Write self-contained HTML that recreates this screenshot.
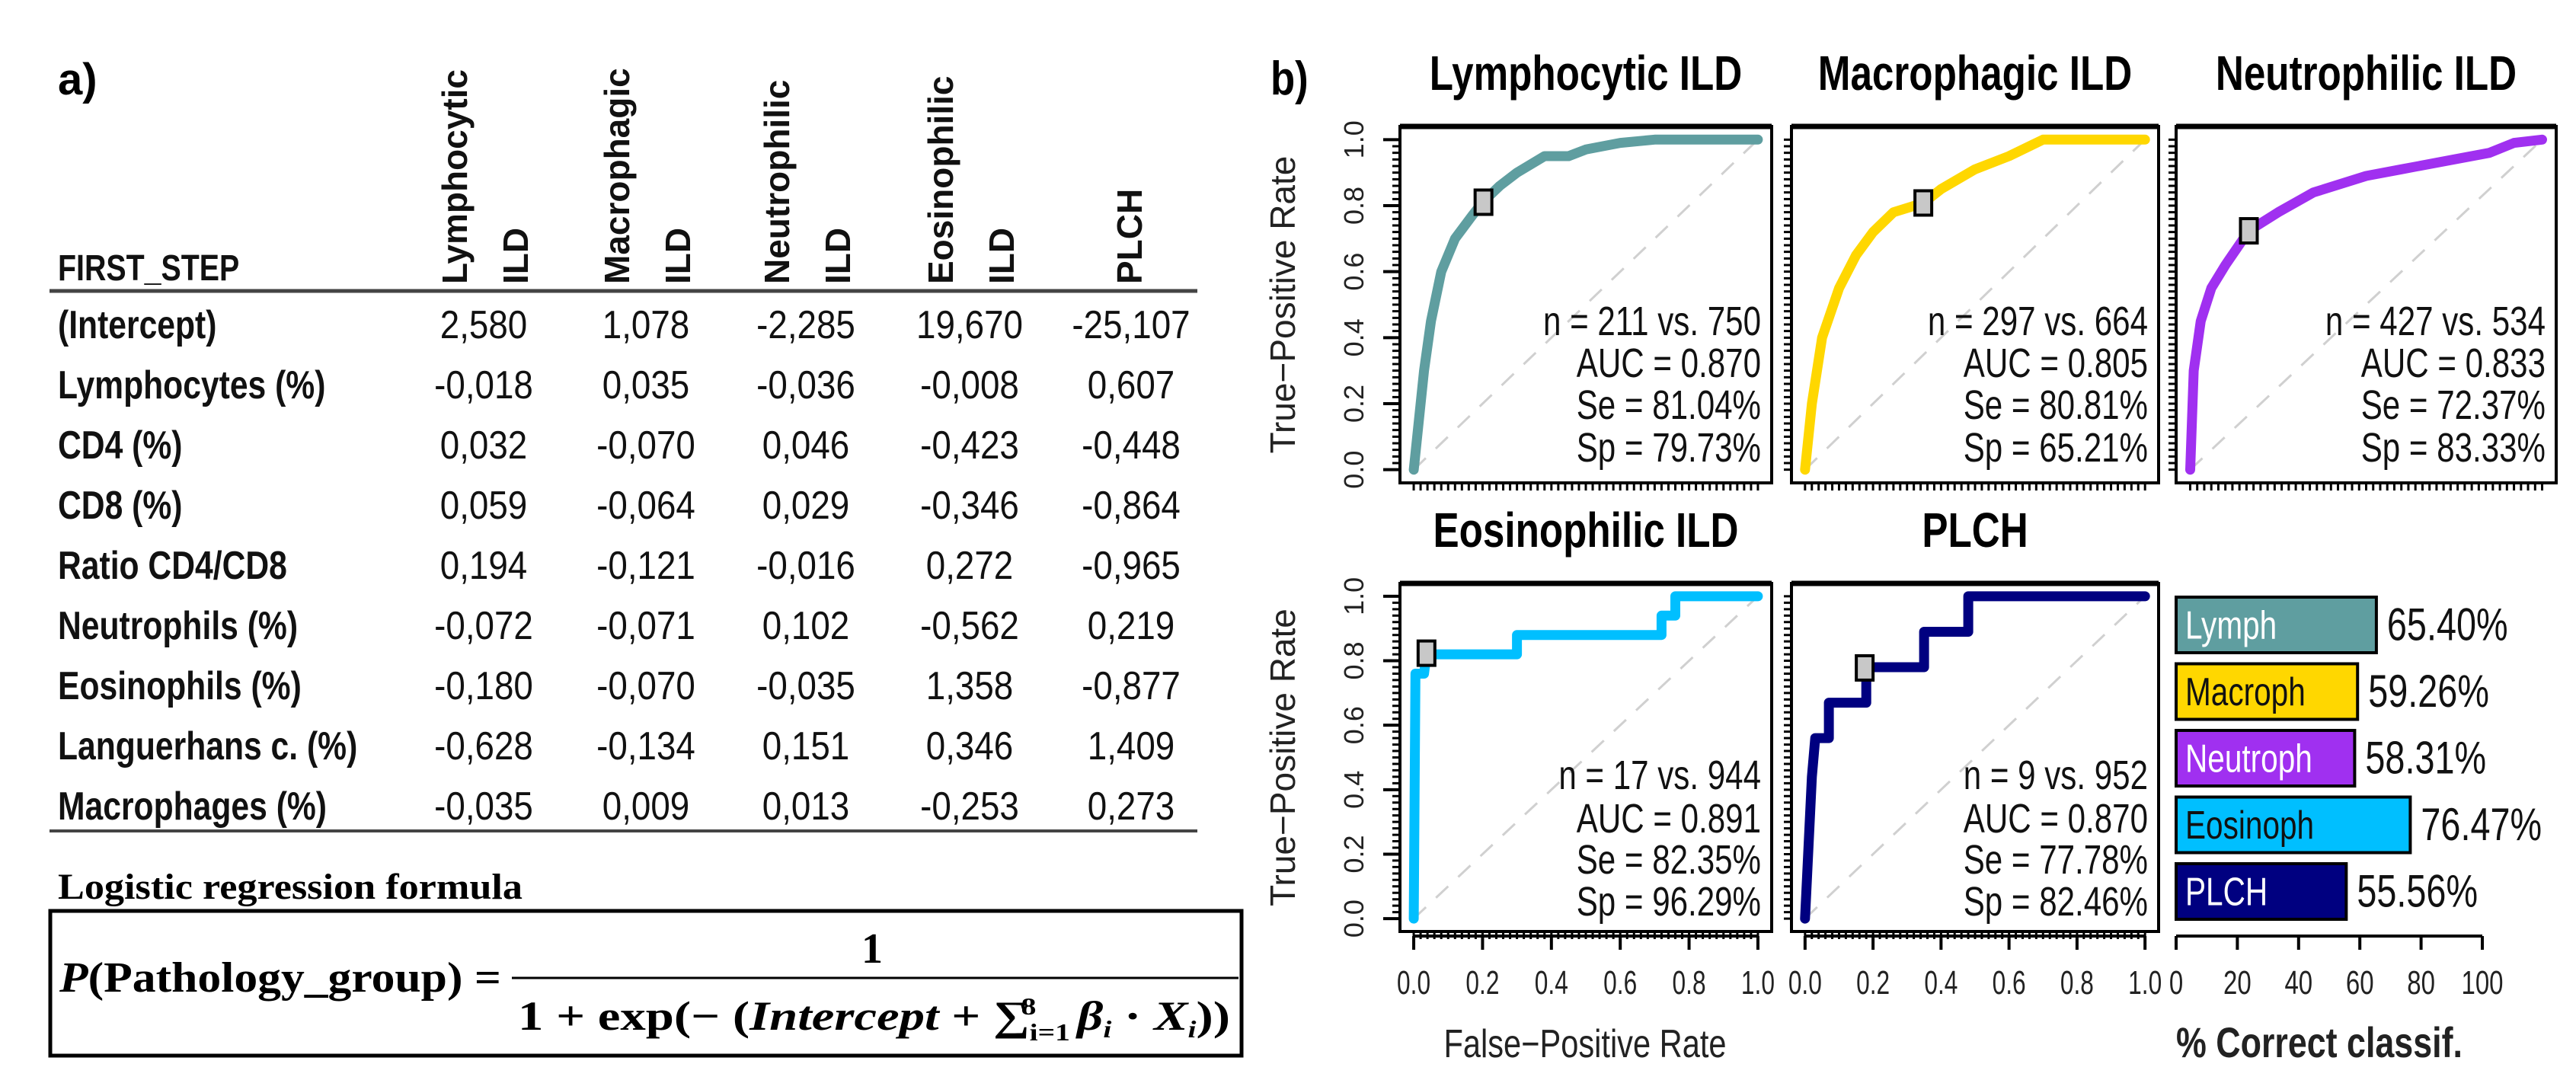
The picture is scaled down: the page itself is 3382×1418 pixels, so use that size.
<!DOCTYPE html>
<html><head><meta charset="utf-8"><style>
html,body{margin:0;padding:0;background:#fff;}
svg{display:block;}
</style></head><body>
<svg id="fig" width="3382" height="1418" viewBox="0 0 3382 1418" xmlns="http://www.w3.org/2000/svg">
<rect x="0" y="0" width="3382" height="1418" fill="#fff"/>
<g id="table" font-family="Liberation Sans, sans-serif" fill="#111"></g>
<g id="formula">
  <text x="76" y="124" font-family="Liberation Sans, sans-serif" font-weight="bold" font-size="58">a)</text>
  <text x="76" y="1180" font-family="Liberation Serif, serif" font-weight="bold" font-size="48" textLength="610" lengthAdjust="spacingAndGlyphs">Logistic regression formula</text>
  <rect x="66" y="1196" width="1564" height="190" fill="none" stroke="#000" stroke-width="5"/>
  <text x="78" y="1302" font-family="Liberation Serif, serif" font-weight="bold" font-size="56" textLength="580" lengthAdjust="spacingAndGlyphs"><tspan font-style="italic">P</tspan>(Pathology_group) =</text>
  <text x="1145" y="1264" text-anchor="middle" font-family="Liberation Serif, serif" font-weight="bold" font-size="56">1</text>
  <line x1="672" y1="1284" x2="1626" y2="1284" stroke="#000" stroke-width="3"/>
  <text x="680" y="1352" font-family="Liberation Serif, serif" font-weight="bold" font-size="54" textLength="935" lengthAdjust="spacingAndGlyphs">1 + exp(− (<tspan font-style="italic">Intercept</tspan> + ∑<tspan font-size="32" dy="14">i=1</tspan><tspan font-size="32" dy="-34" dx="-52">8</tspan><tspan dy="20" dx="30"> </tspan><tspan font-style="italic">β</tspan><tspan font-size="32" font-style="italic" dy="10">i</tspan><tspan dy="-10"> · </tspan><tspan font-style="italic">X</tspan><tspan font-size="32" font-style="italic" dy="10">i</tspan><tspan dy="-10">))</tspan></text>
</g>
<g id="rocs" font-family="Liberation Sans, sans-serif"></g>
<g id="bars" font-family="Liberation Sans, sans-serif"></g>
</svg>
<script>
const NS="http://www.w3.org/2000/svg";
function mk(parent,tag,attrs,txt){const e=document.createElementNS(NS,tag);for(const k in attrs)e.setAttribute(k,attrs[k]);if(txt!==undefined)e.textContent=txt;parent.appendChild(e);return e;}
// condensed text helper (x,y anchor, horizontal squeeze)
function ctext(parent,x,y,s,size,anchor,sx,extra){const a=Object.assign({transform:`translate(${x},${y}) scale(${sx},1)`,'text-anchor':anchor,'font-size':size},extra||{});return mk(parent,'text',a,s);}

// ---------- TABLE DATA ----------
const colHeads=[["Lymphocytic","ILD"],["Macrophagic","ILD"],["Neutrophilic","ILD"],["Eosinophilic","ILD"],["PLCH",""]];
const rowLabels=["(Intercept)","Lymphocytes (%)","CD4 (%)","CD8 (%)","Ratio CD4/CD8","Neutrophils (%)","Eosinophils (%)","Languerhans c. (%)","Macrophages (%)"];
const colLymph=["2,580","-0,018","0,032","0,059","0,194","-0,072","-0,180","-0,628","-0,035"];
const colMacro=["1,078","0,035","-0,070","-0,064","-0,121","-0,071","-0,070","-0,134","0,009"];
const colNeutro=["-2,285","-0,036","0,046","0,029","-0,016","0,102","-0,035","0,151","0,013"];
const colEosin=["19,670","-0,008","-0,423","-0,346","0,272","-0,562","1,358","0,346","-0,253"];
const colPlch=["-25,107","0,607","-0,448","-0,864","-0,965","0,219","-0,877","1,409","0,273"];
const tcols=[colLymph,colMacro,colNeutro,colEosin,colPlch];

const tb=document.getElementById('table');
const colX=[635,848,1058,1273,1485];
const t1=ctext(tb,76,368,'FIRST_STEP',48,'start',0.82,{'font-weight':'bold'});


colHeads.forEach((h,i)=>{
  const xa = h[1]? colX[i]-22 : colX[i]+14;
  const a=mk(tb,'text',{transform:`translate(${xa},373) rotate(-90)`,'font-weight':'bold','font-size':46},h[0]);
  
  
  if(h[1]){
    const b=mk(tb,'text',{transform:`translate(${colX[i]+58},373) rotate(-90)`,'font-weight':'bold','font-size':46},h[1]);
    
    
  }
});
let hl=mk(tb,'line',{x1:65,y1:382,x2:1572,y2:382,stroke:'#444','stroke-width':5});


let bl=mk(tb,'line',{x1:65,y1:1091,x2:1572,y2:1091,stroke:'#444','stroke-width':4});


rowLabels.forEach((r,j)=>{
  const y=444+j*79;
  const l=ctext(tb,76,y,r,52,'start',0.82,{'font-weight':'bold'});
  
  
  tcols.forEach((c,i)=>{
    const v=ctext(tb,colX[i],y,c[j],52,'middle',0.88);
    
    
  });
});

// ---------- ROC DATA ----------
const rocTitles=["Lymphocytic ILD","Macrophagic ILD","Neutrophilic ILD","Eosinophilic ILD","PLCH"];
const rocColors=["#5f9ea0","#ffd700","#a030f0","#00bfff","#000080"];
const lymphFpr=[0,0.01,0.02,0.03,0.05,0.08,0.12,0.17,0.2,0.25,0.3,0.38,0.45,0.5,0.6,0.7,1];
const lymphTpr=[0,0.1,0.2,0.3,0.45,0.6,0.7,0.77,0.81,0.86,0.9,0.95,0.95,0.97,0.99,1,1];
const macroFpr=[0,0.02,0.05,0.1,0.15,0.2,0.26,0.348,0.4,0.5,0.6,0.7,1];
const macroTpr=[0,0.2,0.4,0.55,0.65,0.72,0.78,0.808,0.85,0.91,0.95,1,1];
const neutroFpr=[0,0.01,0.03,0.06,0.1,0.167,0.25,0.35,0.5,0.6,0.75,0.85,0.92,1];
const neutroTpr=[0,0.3,0.45,0.55,0.62,0.724,0.78,0.84,0.89,0.91,0.94,0.96,0.99,1];
const eosFpr=[0,0.005,0.03,0.037,0.3,0.3,0.72,0.72,0.76,0.76,1];
const eosTpr=[0,0.76,0.76,0.82,0.82,0.88,0.88,0.94,0.94,1,1];
const plchFpr=[0,0.01,0.02,0.03,0.07,0.07,0.18,0.18,0.35,0.35,0.48,0.48,1];
const plchTpr=[0,0.22,0.44,0.56,0.56,0.67,0.67,0.78,0.78,0.89,0.89,1,1];
const rocFpr=[lymphFpr,macroFpr,neutroFpr,eosFpr,plchFpr];
const rocTpr=[lymphTpr,macroTpr,neutroTpr,eosTpr,plchTpr];
const cutFpr=[0.2027,0.3479,0.1667,0.0371,0.1754];
const cutTpr=[0.8104,0.8081,0.7237,0.8235,0.7778];
const annN=["n = 211 vs. 750","n = 297 vs. 664","n = 427 vs. 534","n = 17 vs. 944","n = 9 vs. 952"];
const annAuc=["AUC = 0.870","AUC = 0.805","AUC = 0.833","AUC = 0.891","AUC = 0.870"];
const annSe=["Se = 81.04%","Se = 80.81%","Se = 72.37%","Se = 82.35%","Se = 77.78%"];
const annSp=["Sp = 79.73%","Sp = 65.21%","Sp = 83.33%","Sp = 96.29%","Sp = 82.46%"];
const tickVals=[0,0.2,0.4,0.6,0.8,1.0];

const boxes=[[1838,166,2326,634],[2352,166,2834,634],[2857,166,3356,634],[1838,766,2326,1223],[2352,766,2834,1223]];
const rg=document.getElementById('rocs');
const b=ctext(rg,1668,124,'b)',62,'start',0.85,{'font-weight':'bold'});



boxes.forEach((bx,k)=>{
  const [L,T,R,B]=bx;const W=R-L,H=B-T;const px=W*0.037,py=H*0.037;
  const xs=v=>L+px+v*(W-2*px);
  const ys=v=>B-py-v*(H-2*py);
  const g=mk(rg,'g',{});
  
  
  const tt=ctext(g,(L+R)/2,T-48,rocTitles[k],64,'middle',0.8,{'font-weight':'bold'});
  
  
  const dg=mk(g,'line',{x1:xs(0),y1:ys(0),x2:xs(1),y2:ys(1),stroke:'#d0d0d0','stroke-width':3,'stroke-dasharray':'22 18'});
  
  
  let d='';
  for(let i=0;i<=50;i++){const x=xs(i/50);d+=`M${x},${B} v10 `;const y=ys(i/50);d+=`M${L},${y} h-10 `;}
  const rug=mk(g,'path',{d:d,stroke:'#000','stroke-width':3});
  
  
  const pts=rocFpr[k].map((f,i)=>`${xs(f).toFixed(1)},${ys(rocTpr[k][i]).toFixed(1)}`).join(' ');
  const c=mk(g,'polyline',{points:pts,fill:'none',stroke:rocColors[k],'stroke-width':13,'stroke-linejoin':'round','stroke-linecap':'round'});
  
  
  const m=mk(g,'rect',{x:xs(cutFpr[k])-11,y:ys(cutTpr[k])-16,width:22,height:32,fill:'#c8c8c8',stroke:'#000','stroke-width':4});
  
  
  const br=mk(g,'rect',{x:L,y:T,width:W,height:H,fill:'none',stroke:'#000','stroke-width':4});
  
  
  mk(g,'line',{x1:L,y1:T,x2:R,y2:T,stroke:'#000','stroke-width':7});
  const ay=k<3?[440,495,550,606]:[1036,1093,1147,1202];
  [annN[k],annAuc[k],annSe[k],annSp[k]].forEach((s,i)=>{
    const a=ctext(g,R-14,ay[i],s,54,'end',0.78,{fill:'#111'});
    
    
  });
  if(k==0||k==3){
    tickVals.forEach(v=>{
      mk(g,'line',{x1:L-22,y1:ys(v),x2:L,y2:ys(v),stroke:'#000','stroke-width':4});
      const tl=mk(g,'text',{transform:`translate(${L-48},${ys(v)}) rotate(-90)`,'text-anchor':'middle','font-size':36,fill:'#222'},v.toFixed(1));
      
      
    });
    const yt=mk(g,'text',{transform:`translate(${L-138},${(T+B)/2}) rotate(-90)`,'text-anchor':'middle','font-size':46,fill:'#222'},'True−Positive Rate');
    
    
  }
  if(k>=3){
    mk(g,'line',{x1:xs(0),y1:B+6,x2:xs(1),y2:B+6,stroke:'#000','stroke-width':4});
    tickVals.forEach(v=>{
      mk(g,'line',{x1:xs(v),y1:B+6,x2:xs(v),y2:B+24,stroke:'#000','stroke-width':4});
      const tl=ctext(g,xs(v),B+82,v.toFixed(1),44,'middle',0.72,{fill:'#222'});
      
      
    });
  }
});
const xt=ctext(rg,2081,1388,'False−Positive Rate',52,'middle',0.8,{fill:'#222'});



// ---------- BAR CHART DATA ----------
const barNames=["Lymph","Macroph","Neutroph","Eosinoph","PLCH"];
const barValues=[65.40,59.26,58.31,76.47,55.56];
const barLabels=["65.40%","59.26%","58.31%","76.47%","55.56%"];
const barColors=["#5f9ea0","#ffd700","#a030f0","#00bfff","#000080"];
const barTextColors=["#fff","#111","#fff","#111","#fff"];
const barTicks=[0,20,40,60,80,100];
const bg=document.getElementById('bars');
const bx=v=>2857+v*4.02;
const bTop=784,bStep=87.5,bH=73;
barValues.forEach((v,i)=>{
  const y=bTop+i*bStep;
  const r=mk(bg,'rect',{x:bx(0),y:y,width:bx(v)-bx(0),height:bH,fill:barColors[i],stroke:'#000','stroke-width':4});
  
  
  const n=ctext(bg,bx(0)+12,y+bH/2+18,barNames[i],52,'start',0.78,{fill:barTextColors[i]});
  
  
  const l=ctext(bg,bx(v)+14,y+bH/2+20,barLabels[i],60,'start',0.78,{fill:'#111'});
  
  
});
mk(bg,'line',{x1:bx(0),y1:1229,x2:bx(100),y2:1229,stroke:'#000','stroke-width':4});
barTicks.forEach(t=>{
  mk(bg,'line',{x1:bx(t),y1:1229,x2:bx(t),y2:1247,stroke:'#000','stroke-width':4});
  const tl=ctext(bg,bx(t),1305,String(t),44,'middle',0.75,{fill:'#222'});
  
  
});
const bt=ctext(bg,2857,1388,'% Correct classif.',56,'start',0.8,{'font-weight':'bold',fill:'#222'});


</script>
</body></html>
